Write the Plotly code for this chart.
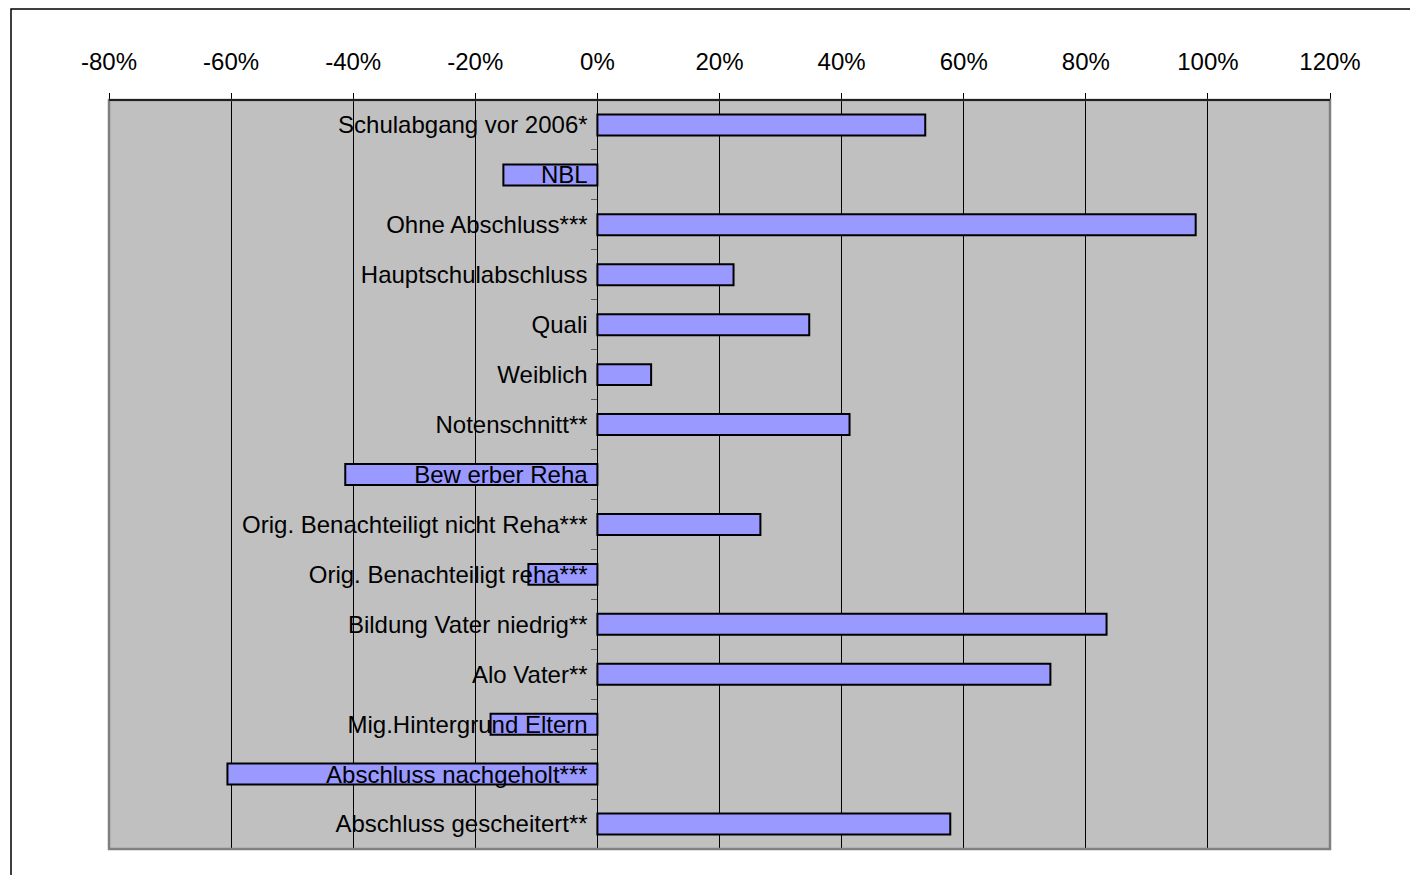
import plotly.graph_objects as go

categories = [
    "Schulabgang vor 2006*",
    "NBL",
    "Ohne Abschluss***",
    "Hauptschulabschluss",
    "Quali",
    "Weiblich",
    "Notenschnitt**",
    "Bew erber Reha",
    "Orig. Benachteiligt nicht Reha***",
    "Orig. Benachteiligt reha***",
    "Bildung Vater niedrig**",
    "Alo Vater**",
    "Mig.Hintergrund Eltern",
    "Abschluss nachgeholt***",
    "Abschluss gescheitert**",
]
values = [0.537, -0.154, 0.980, 0.223, 0.347, 0.088, 0.413, -0.413, 0.267,
          -0.113, 0.834, 0.742, -0.175, -0.606, 0.578]
x_ticks = [-0.8, -0.6, -0.4, -0.2, 0.0, 0.2, 0.4, 0.6, 0.8, 1.0, 1.2]
x_tick_text = ["-80%", "-60%", "-40%", "-20%", "0%", "20%", "40%", "60%",
               "80%", "100%", "120%"]

# page body has an 8px margin, so figure coords are offset by 8
OFF = 8
W, H = 1418 - OFF, 875 - OFF
L, R, T, B = 109 - OFF, 1330 - OFF, 100 - OFF, 849 - OFF

fig = go.Figure()
fig.add_trace(go.Bar(
    x=values, y=categories, orientation="h",
    marker=dict(color="#9999FF", line=dict(color="black", width=2)),
    width=0.42,
))

font = dict(family="Liberation Sans, Arial, sans-serif", size=24, color="black")

fig.update_layout(
    width=W, height=H,
    margin=dict(l=L, r=W - R, t=T, b=H - B),
    paper_bgcolor="white",
    plot_bgcolor="#C0C0C0",
    showlegend=False,
    font=font,
    xaxis=dict(
        side="top", range=[-0.8, 1.2], tickvals=x_ticks, ticktext=x_tick_text,
        showgrid=True, gridcolor="black", gridwidth=1,
        zeroline=False, showline=True, linecolor="black", linewidth=1,
        ticks="outside", ticklen=6, tickcolor="black", tickfont=font,
        ticklabelstandoff=13,
    ),
    yaxis=dict(
        type="category", categoryorder="array", categoryarray=categories,
        autorange="reversed", anchor="free", position=0.4,
        showline=True, linecolor="black", linewidth=1,
        ticks="outside", tickson="boundaries", ticklen=6, tickcolor="#606060",
        showgrid=False, tickfont=font, ticklabelstandoff=5,
    ),
    shapes=[
        dict(type="rect", xref="paper", yref="paper", x0=0, x1=1, y0=0, y1=1,
             line=dict(color="#808080", width=2.5), layer="above"),
        dict(type="line", xref="paper", yref="paper", x0=0, x1=1, y0=1, y1=1,
             line=dict(color="black", width=1.5), layer="above"),
        dict(type="rect", xref="paper", yref="paper",
             x0=(3 - L) / (R - L), x1=(W + 20 - L) / (R - L),
             y0=(B - (H + 20)) / (B - T), y1=1 + (T - 1) / (B - T),
             line=dict(color="black", width=1.5), layer="above"),
    ],
)

fig.write_html("out.html")
